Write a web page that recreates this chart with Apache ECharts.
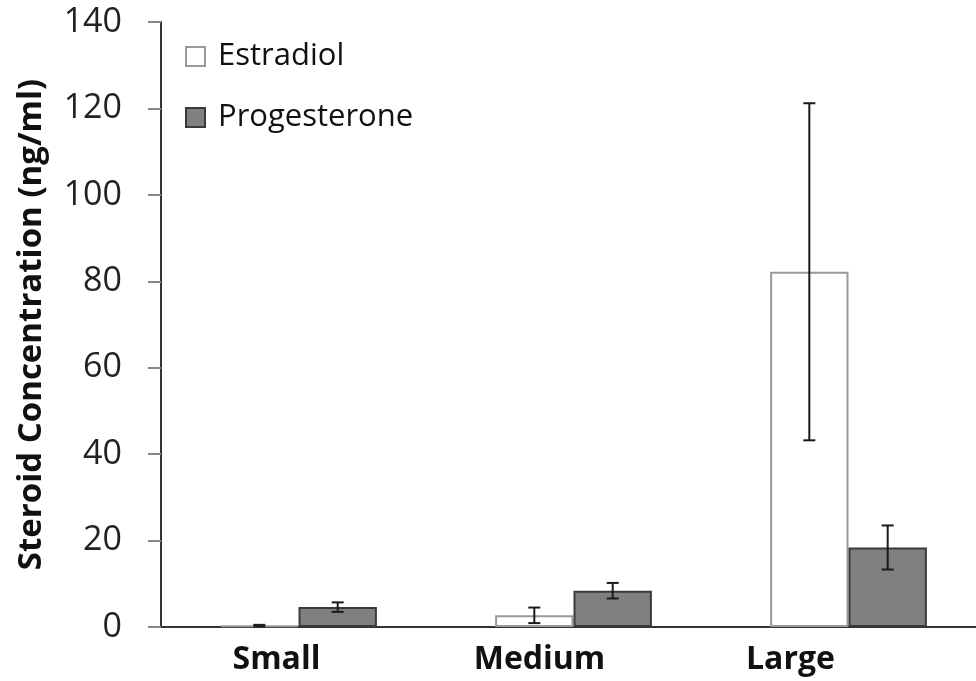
<!DOCTYPE html>
<html>
<head>
<meta charset="utf-8">
<script src="https://cdn.jsdelivr.net/npm/echarts@6/dist/echarts.min.js"></script>
<style>html,body{margin:0;padding:0;background:#fff;overflow:hidden;width:976px;height:681px;}#c{width:986px;height:681px;}</style>
</head>
<body>
<div id="c"></div>
<script>
const categories = ['Small', 'Medium', 'Large'];
const estradiol = [0.3, 2.7, 82.2];
const estradiolErr = [0.2, 1.8, 39.0];
const progesterone = [4.6, 8.4, 18.4];
const progesteroneErr = [1.1, 1.8, 5.1];
const yTicks = [0, 20, 40, 60, 80, 100, 120, 140];

const catGap = 0.43;
function errData(vals, errs) {
  return vals.map((v, i) => [i, v - errs[i], v + errs[i]]);
}
function errRenderer(seriesIdx) {
  return function (params, api) {
    const catW = api.size([1, 0])[0];
    const barW = catW * (1 - catGap) / 2;
    const off = seriesIdx === 0 ? -barW / 2 : barW / 2;
    const lo = api.coord([api.value(0), api.value(1)]);
    const hi = api.coord([api.value(0), api.value(2)]);
    const x = lo[0] + off;
    const cap = 6;
    const style = { stroke: '#1a1a1a', lineWidth: 2 };
    return {
      type: 'group',
      children: [
        { type: 'line', shape: { x1: x, y1: lo[1], x2: x, y2: hi[1] }, style },
        { type: 'line', shape: { x1: x - cap, y1: lo[1], x2: x + cap, y2: lo[1] }, style },
        { type: 'line', shape: { x1: x - cap, y1: hi[1], x2: x + cap, y2: hi[1] }, style }
      ]
    };
  };
}

const labelFont = { fontSize: 32, fontWeight: 'bold', color: '#111', fontFamily: 'Open Sans' };
const chart = echarts.init(document.getElementById('c'), null, { renderer: 'canvas' });
chart.setOption({
  backgroundColor: '#fff',
  animation: false,
  textStyle: { fontFamily: 'Open Sans' },
  grid: { left: 161, top: 22, right: 0, bottom: 54, containLabel: false },
  legend: {
    orient: 'vertical', left: 185, top: 41, itemGap: 30, padding: 0,
    itemWidth: 19, itemHeight: 19, icon: 'rect',
    data: ['Estradiol', 'Progesterone'],
    textStyle: { fontSize: 31, lineHeight: 30, color: '#111', fontFamily: 'Open Sans', padding: [0, 0, 0, 8] }
  },
  xAxis: {
    type: 'category', data: categories,
    axisLine: { lineStyle: { color: '#333', width: 2 } },
    axisTick: { show: false },
    axisLabel: {
      margin: 17,
      formatter: v => '{' + v + '|' + v + '}',
      rich: {
        Small: Object.assign({ padding: [0, 44, 0, 0] }, labelFont),
        Medium: Object.assign({ padding: [0, 68, 0, 0] }, labelFont),
        Large: Object.assign({ padding: [0, 116, 0, 0] }, labelFont)
      }
    }
  },
  yAxis: {
    type: 'value', min: 0, max: 140, interval: 20,
    name: 'Steroid Concentration (ng/ml)',
    nameLocation: 'middle', nameGap: 113, nameRotate: 90,
    nameTextStyle: { fontSize: 33, fontWeight: 'bold', color: '#111', fontFamily: 'Open Sans' },
    axisLine: { show: true, lineStyle: { color: '#333', width: 2 } },
    axisTick: { show: true, length: 13, lineStyle: { color: '#888', width: 2 } },
    splitLine: { show: false },
    axisLabel: { fontSize: 34, color: '#222', margin: 39, fontFamily: 'Open Sans',
      formatter: v => yTicks.includes(v) ? String(v) : '' }
  },
  series: [
    { name: 'Estradiol', type: 'bar', data: estradiol, barGap: '0%', barCategoryGap: '43%',
      itemStyle: { color: '#ffffff', borderColor: '#999999', borderWidth: 2 } },
    { name: 'Progesterone', type: 'bar', data: progesterone, barGap: '0%', barCategoryGap: '43%',
      itemStyle: { color: '#808080', borderColor: '#3a3a3a', borderWidth: 2 } },
    { type: 'custom', name: 'errE', renderItem: errRenderer(0), data: errData(estradiol, estradiolErr),
      encode: { x: 0, y: [1, 2] }, z: 10 },
    { type: 'custom', name: 'errP', renderItem: errRenderer(1), data: errData(progesterone, progesteroneErr),
      encode: { x: 0, y: [1, 2] }, z: 10 }
  ]
});
</script>
</body>
</html>
